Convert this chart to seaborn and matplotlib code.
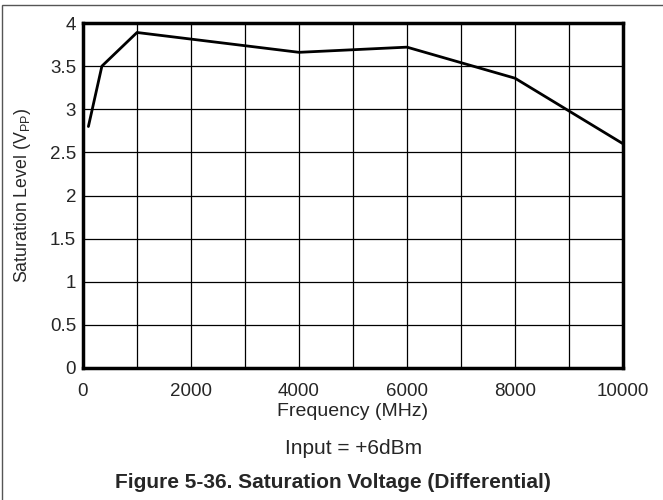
import matplotlib
import matplotlib.pyplot as plt
import seaborn as sns
import pandas as pd
from matplotlib.patches import Rectangle

matplotlib.use('Agg')

freq_mhz = [100, 350, 1000, 4000, 6000, 8000, 10000]
sat_vpp = [2.8, 3.5, 3.89, 3.66, 3.72, 3.36, 2.6]
x_ticks = [0, 2000, 4000, 6000, 8000, 10000]
y_ticks = [0, 0.5, 1, 1.5, 2, 2.5, 3, 3.5, 4]
y_labels = ["0", "0.5", "1", "1.5", "2", "2.5", "3", "3.5", "4"]

sns.set_style("white")
plt.rcParams['font.family'] = ['Liberation Sans', 'DejaVu Sans']
plt.rcParams['mathtext.fontset'] = 'custom'
plt.rcParams['mathtext.rm'] = 'Liberation Sans'
plt.rcParams['mathtext.it'] = 'Liberation Sans'

df = pd.DataFrame({"freq": freq_mhz, "sat": sat_vpp})

fig = plt.figure(figsize=(6.63, 5.0), dpi=100)
ax = fig.add_axes([83 / 663, 1 - 368 / 500, 540 / 663, 345 / 500])

sns.lineplot(data=df, x="freq", y="sat", ax=ax, color="black", linewidth=2)

ax.set_xlim(0, 10000)
ax.set_ylim(0, 4)
ax.set_xticks(x_ticks)
ax.set_xticks(range(0, 10001, 1000), minor=True)
ax.set_yticks(y_ticks)
ax.set_yticklabels(y_labels)
ax.grid(True, which="both", color="black", linewidth=0.9)
ax.tick_params(axis="both", which="both", length=0, labelsize=13.5)
ax.tick_params(axis="x", pad=11)
ax.tick_params(axis="y", pad=5)
for s in ax.spines.values():
    s.set_color("black")
    s.set_linewidth(2.5)

ax.set_xlabel("Frequency (MHz)", fontsize=14, labelpad=2)
ax.set_ylabel("Saturation Level (V$_{\\mathrm{PP}}$)", fontsize=12.8)
ax.yaxis.set_label_coords(-0.092, 0.5)

fig.text(354 / 663, 1 - 449 / 500, "Input = +6dBm", ha="center", va="center", fontsize=15)
fig.text(333 / 663, 1 - 482 / 500, "Figure 5-36. Saturation Voltage (Differential)",
         ha="center", va="center", fontsize=15, fontweight="bold")

# outer frame
fig.patches.append(Rectangle((2 / 663, -0.01), 2, 1 - 5 / 500 + 0.01, transform=fig.transFigure,
                             fill=False, edgecolor="#555555", linewidth=1))

fig.savefig("out.png", dpi=100)
